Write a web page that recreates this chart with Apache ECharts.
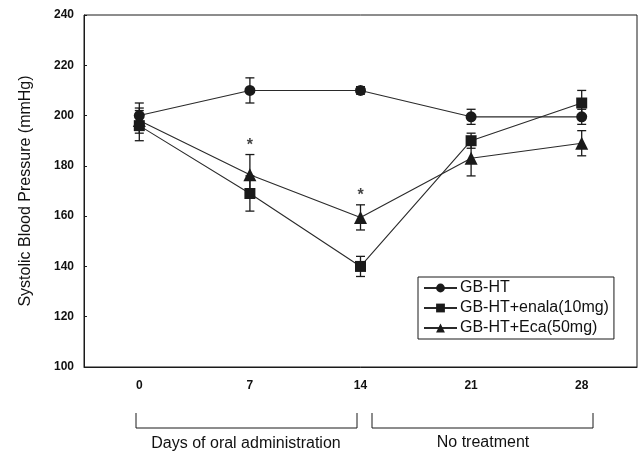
<!DOCTYPE html>
<html><head><meta charset="utf-8">
<script src="https://cdn.jsdelivr.net/npm/echarts@6/dist/echarts.min.js"></script>
<style>html,body{margin:0;padding:0;background:#fff}#c{width:642px;height:455px}</style>
</head><body><div id="c"></div>
<script>
const days = ['0', '7', '14', '21', '28'];
const seriesNames = ['GB-HT', 'GB-HT+enala(10mg)', 'GB-HT+Eca(50mg)'];
const gbht = [200, 210, 210, 199.5, 199.5];
const gbhtErr = [5, 5, 1.5, 3, 3];
const enala = [196, 169, 140, 190, 205];
const enalaErr = [6, 7, 4, 3, 5];
const eca = [198, 176.5, 159.5, 183, 189];
const ecaErr = [5, 8, 5, 7, 5];
const ecaSig = ['', '*', '*', '', ''];
const yMin = 100, yMax = 240, yStep = 20;
const bracketLabels = ['Days of oral administration', 'No treatment'];

const chart = echarts.init(document.getElementById('c'), null, {renderer: 'canvas'});
const ink = '#1a1a1a';

function errData(vals, errs) {
  return vals.map((v, i) => [i, v - errs[i], v + errs[i]]);
}
function errRender(params, api) {
  const x = api.value(0);
  const lo = api.coord([x, api.value(1)]);
  const hi = api.coord([x, api.value(2)]);
  const w = 4.5;
  const st = {stroke: ink, lineWidth: 1.3};
  return {type: 'group', children: [
    {type: 'line', shape: {x1: hi[0], y1: hi[1], x2: lo[0], y2: lo[1]}, style: st},
    {type: 'line', shape: {x1: hi[0] - w, y1: hi[1], x2: hi[0] + w, y2: hi[1]}, style: st},
    {type: 'line', shape: {x1: lo[0] - w, y1: lo[1], x2: lo[0] + w, y2: lo[1]}, style: st}
  ]};
}
function lineSeries(name, data, symbol, size) {
  return {
    name: name, type: 'line', data: data, symbol: symbol, symbolSize: size,
    lineStyle: {color: '#2a2a2a', width: 1.1}, itemStyle: {color: ink},
    z: 3, animation: false
  };
}
function errSeries(vals, errs) {
  return {type: 'custom', data: errData(vals, errs), renderItem: errRender,
    z: 2, silent: true, animation: false, encode: {x: 0, y: [1, 2]}};
}
const sigData = [];
ecaSig.forEach((s, i) => { if (s) sigData.push({value: [i, eca[i] + ecaErr[i]], sig: s}); });

const tickFont = {color: '#111', fontFamily: 'Liberation Sans', fontWeight: 'bold', fontSize: 12};

chart.setOption({
  animation: false,
  grid: {left: 84, right: 5, top: 15, bottom: 88, show: true, borderColor: ink, borderWidth: 1},
  xAxis: {
    type: 'category', data: days, boundaryGap: true,
    axisLine: {lineStyle: {color: ink, width: 1}},
    axisTick: {inside: true, length: 4, lineStyle: {color: ink}},
    axisLabel: Object.assign({margin: 13}, tickFont)
  },
  yAxis: {
    type: 'value', min: yMin, max: yMax, interval: yStep,
    name: 'Systolic Blood Pressure (mmHg)', nameLocation: 'middle', nameGap: 50,
    nameTextStyle: {fontFamily: 'Liberation Sans', fontSize: 16, color: '#111'},
    axisLine: {show: true, lineStyle: {color: ink, width: 1}},
    axisTick: {show: true, inside: true, length: 3, lineStyle: {color: ink}},
    splitLine: {show: false},
    axisLabel: Object.assign({margin: 10}, tickFont)
  },
  legend: {
    orient: 'vertical', left: 418, top: 277,
    data: seriesNames,
    itemWidth: 33, itemHeight: 11, itemGap: 4,
    borderColor: ink, borderWidth: 1, padding: [3, 5, 3, 5],
    textStyle: {fontFamily: 'Liberation Sans', fontSize: 16, color: '#111', padding: [0, 0, 0, -2]}
  },
  series: [
    errSeries(gbht, gbhtErr),
    errSeries(enala, enalaErr),
    errSeries(eca, ecaErr),
    lineSeries(seriesNames[0], gbht, 'circle', 11),
    lineSeries(seriesNames[1], enala, 'rect', 11),
    lineSeries(seriesNames[2], eca, 'triangle', 13),
    {
      type: 'scatter', data: sigData, symbolSize: 0, silent: true, z: 4,
      label: {show: true, position: 'top', distance: 1, formatter: p => p.data.sig,
        fontFamily: 'Liberation Sans', fontWeight: 'bold', fontSize: 16, color: '#111'}
    }
  ],
  graphic: [
    {type: 'polyline', shape: {points: [[136, 413], [136, 428], [357, 428], [357, 413]]}, style: {stroke: ink, lineWidth: 1, fill: null}},
    {type: 'polyline', shape: {points: [[372, 413], [372, 428], [593, 428], [593, 413]]}, style: {stroke: ink, lineWidth: 1, fill: null}},
    {type: 'text', x: 246, y: 444, style: {text: bracketLabels[0], x: 0, y: 0, align: 'center', verticalAlign: 'middle', font: '16px "Liberation Sans"', fill: '#111'}},
    {type: 'text', x: 483, y: 443, style: {text: bracketLabels[1], x: 0, y: 0, align: 'center', verticalAlign: 'middle', font: '16px "Liberation Sans"', fill: '#111'}}
  ]
});
</script></body></html>
